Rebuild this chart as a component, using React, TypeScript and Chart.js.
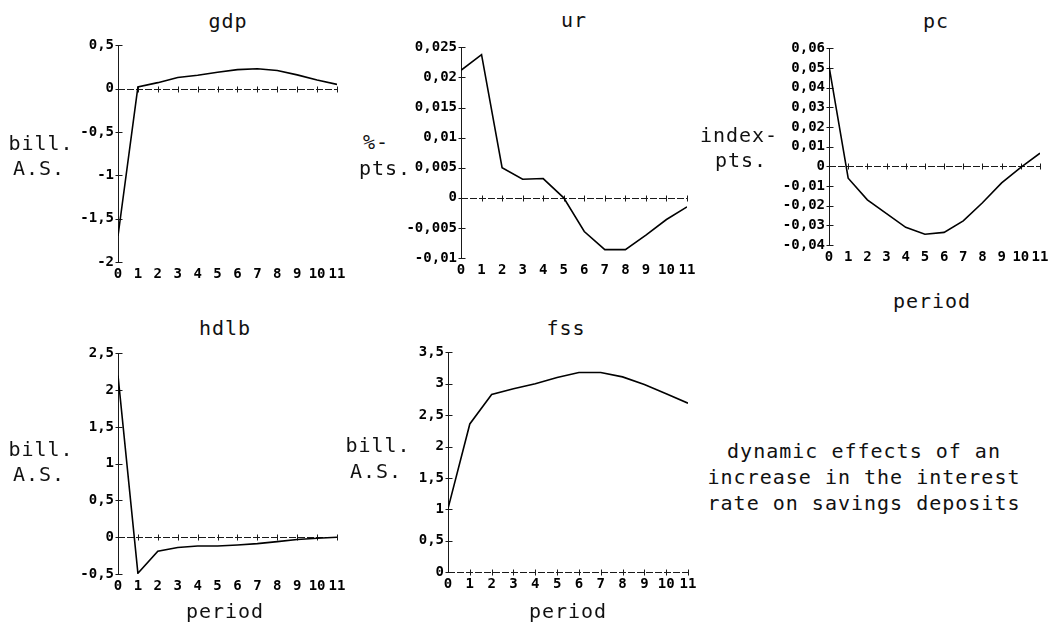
import React, { useEffect, useRef } from "react";
import Chart from "chart.js/auto";

// ---- data ----
const periods = [0, 1, 2, 3, 4, 5, 6, 7, 8, 9, 10, 11];

const gdpValues = [-1.7, 0.02, 0.07, 0.13, 0.155, 0.19, 0.22, 0.23, 0.21, 0.16, 0.1, 0.05];
const urValues = [0.0212, 0.0238, 0.005, 0.0031, 0.0032, 0.0, -0.0056, -0.0086, -0.0086, -0.0062, -0.0036, -0.0015];
const pcValues = [0.051, -0.006, -0.017, -0.024, -0.031, -0.0345, -0.0336, -0.0277, -0.0185, -0.0084, -0.0005, 0.0067];
const hdlbValues = [2.2, -0.49, -0.19, -0.14, -0.12, -0.12, -0.105, -0.087, -0.06, -0.03, -0.014, 0.0];
const fssValues = [1.01, 2.36, 2.83, 2.92, 3.0, 3.1, 3.18, 3.18, 3.11, 2.99, 2.84, 2.69];

const gdpTicks = [-2, -1.5, -1, -0.5, 0, 0.5];
const urTicks = [-0.01, -0.005, 0, 0.005, 0.01, 0.015, 0.02, 0.025];
const pcTicks = [-0.04, -0.03, -0.02, -0.01, 0, 0.01, 0.02, 0.03, 0.04, 0.05, 0.06];
const hdlbTicks = [-0.5, 0, 0.5, 1, 1.5, 2, 2.5];
const fssTicks = [0, 0.5, 1, 1.5, 2, 2.5, 3, 3.5];

const FONT = '"DejaVu Sans Mono", "Liberation Mono", monospace';

type PanelDef = {
  name: string;
  values: number[];
  ticks: number[];
  left: number;
  top: number;
  right: number;
  bottom: number;
};

const panels: PanelDef[] = [
  { name: "gdp", values: gdpValues, ticks: gdpTicks, left: 118, top: 45, right: 337, bottom: 262 },
  { name: "ur", values: urValues, ticks: urTicks, left: 461, top: 47, right: 687, bottom: 258 },
  { name: "pc", values: pcValues, ticks: pcTicks, left: 829, top: 48, right: 1040, bottom: 245 },
  { name: "hdlb", values: hdlbValues, ticks: hdlbTicks, left: 118, top: 353, right: 337, bottom: 574 },
  { name: "fss", values: fssValues, ticks: fssTicks, left: 448, top: 352, right: 688, bottom: 572 },
];

const PAD_L = 64;
const PAD_T = 12;
const PAD_R = 16;
const PAD_B = 28;

function fmt(v: number) {
  const s = parseFloat(Number(v).toFixed(4)).toString();
  return s.replace(".", ",");
}

const oldAxes = {
  id: "oldAxes",
  beforeDatasetsDraw(chart: any) {
    const { ctx, chartArea, scales } = chart;
    const x = scales.x;
    const y = scales.y;
    ctx.save();
    ctx.strokeStyle = "#1a1a1a";
    ctx.lineWidth = 1;
    const ax = Math.round(x.getPixelForValue(0)) + 0.5;
    ctx.beginPath();
    ctx.moveTo(ax, chartArea.top);
    ctx.lineTo(ax, chartArea.bottom);
    for (const t of y.ticks) {
      const py = Math.round(y.getPixelForValue(t.value)) + 0.5;
      ctx.moveTo(ax - 3, py);
      ctx.lineTo(ax + 4, py);
    }
    ctx.stroke();
    const zy = Math.round(y.getPixelForValue(0)) + 0.5;
    ctx.setLineDash([7, 2]);
    ctx.beginPath();
    ctx.moveTo(x.getPixelForValue(periods[0]), zy);
    ctx.lineTo(x.getPixelForValue(periods[periods.length - 1]), zy);
    ctx.stroke();
    ctx.setLineDash([]);
    ctx.beginPath();
    for (const p of periods) {
      if (p === 0) continue;
      const px = Math.round(x.getPixelForValue(p)) + 0.5;
      ctx.moveTo(px, zy - 3);
      ctx.lineTo(px, zy + 3);
    }
    ctx.stroke();
    ctx.restore();
  },
};

function Panel({ def }: { def: PanelDef }) {
  const ref = useRef<HTMLCanvasElement | null>(null);
  const w = def.right - def.left + PAD_L + PAD_R;
  const h = def.bottom - def.top + PAD_T + PAD_B;
  useEffect(() => {
    if (!ref.current) return;
    const tickFont = { family: FONT, size: 14, weight: "bold" as const };
    const chart = new Chart(ref.current, {
      type: "line",
      data: {
        datasets: [
          {
            data: periods.map((p, i) => ({ x: p, y: def.values[i] })),
            borderColor: "#000",
            borderWidth: 1.6,
            pointRadius: 0,
            tension: 0,
            fill: false,
          },
        ],
      },
      options: {
        animation: false,
        responsive: false,
        events: [],
        layout: { padding: { left: 0, top: PAD_T, right: PAD_R, bottom: 0 } },
        plugins: { legend: { display: false }, tooltip: { enabled: false }, title: { display: false } },
        scales: {
          x: {
            type: "linear",
            min: periods[0],
            max: periods[periods.length - 1],
            afterBuildTicks: (s: any) => {
              s.ticks = periods.map((p) => ({ value: p }));
            },
            afterFit: (s: any) => {
              s.height = PAD_B;
            },
            ticks: {
              font: tickFont,
              color: "#000",
              padding: 4,
              autoSkip: false,
              maxRotation: 0,
              callback: (v: any) => String(v),
            },
            grid: { display: false, drawTicks: false },
            border: { display: false },
          },
          y: {
            type: "linear",
            min: def.ticks[0],
            max: def.ticks[def.ticks.length - 1],
            afterBuildTicks: (s: any) => {
              s.ticks = def.ticks.map((v) => ({ value: v }));
            },
            afterFit: (s: any) => {
              s.width = PAD_L;
            },
            ticks: {
              font: tickFont,
              color: "#000",
              padding: 4,
              autoSkip: false,
              callback: (v: any) => fmt(v),
            },
            grid: { display: false, drawTicks: false },
            border: { display: false },
          },
        },
      } as any,
      plugins: [oldAxes],
    });
    return () => chart.destroy();
  }, [def]);
  return (
    <canvas
      ref={ref}
      width={w}
      height={h}
      style={{ position: "absolute", left: def.left - PAD_L, top: def.top - PAD_T, width: w, height: h }}
    />
  );
}

function Label({ x, base, text, center = true }: { x: number; base: number; text: string; center?: boolean }) {
  return (
    <div
      style={{
        position: "absolute",
        left: x,
        top: base - 17,
        fontFamily: FONT,
        fontSize: 20,
        lineHeight: "20px",
        letterSpacing: "1px",
        whiteSpace: "pre",
        color: "#111",
        transform: center ? "translateX(-50%)" : undefined,
      }}
    >
      {text}
    </div>
  );
}

export default function App() {
  return (
    <div style={{ position: "absolute", left: 0, top: 0, width: 1053, height: 625, background: "#fff", overflow: "hidden" }}>
      {panels.map((p) => (
        <Panel key={p.name} def={p} />
      ))}
      {/* titles */}
      <Label x={228} base={28} text="gdp" />
      <Label x={574} base={27} text="ur" />
      <Label x={936} base={28} text="pc" />
      <Label x={225} base={335} text="hdlb" />
      <Label x={566} base={335} text="fss" />
      {/* unit labels */}
      <Label x={41} base={150} text="bill." />
      <Label x={39} base={175} text="A.S." />
      <Label x={363} base={149} text="%-" center={false} />
      <Label x={385} base={175} text="pts." />
      <Label x={739} base={142} text="index-" />
      <Label x={741} base={167} text="pts." />
      <Label x={41} base={456} text="bill." />
      <Label x={39} base={481} text="A.S." />
      <Label x={378} base={452} text="bill." />
      <Label x={376} base={478} text="A.S." />
      {/* period labels */}
      <Label x={932} base={308} text="period" />
      <Label x={225} base={618} text="period" />
      <Label x={568} base={618} text="period" />
      {/* note */}
      <Label x={864} base={458} text="dynamic effects of an" />
      <Label x={864} base={484} text="increase in the interest" />
      <Label x={864} base={510} text="rate on savings deposits" />
    </div>
  );
}
